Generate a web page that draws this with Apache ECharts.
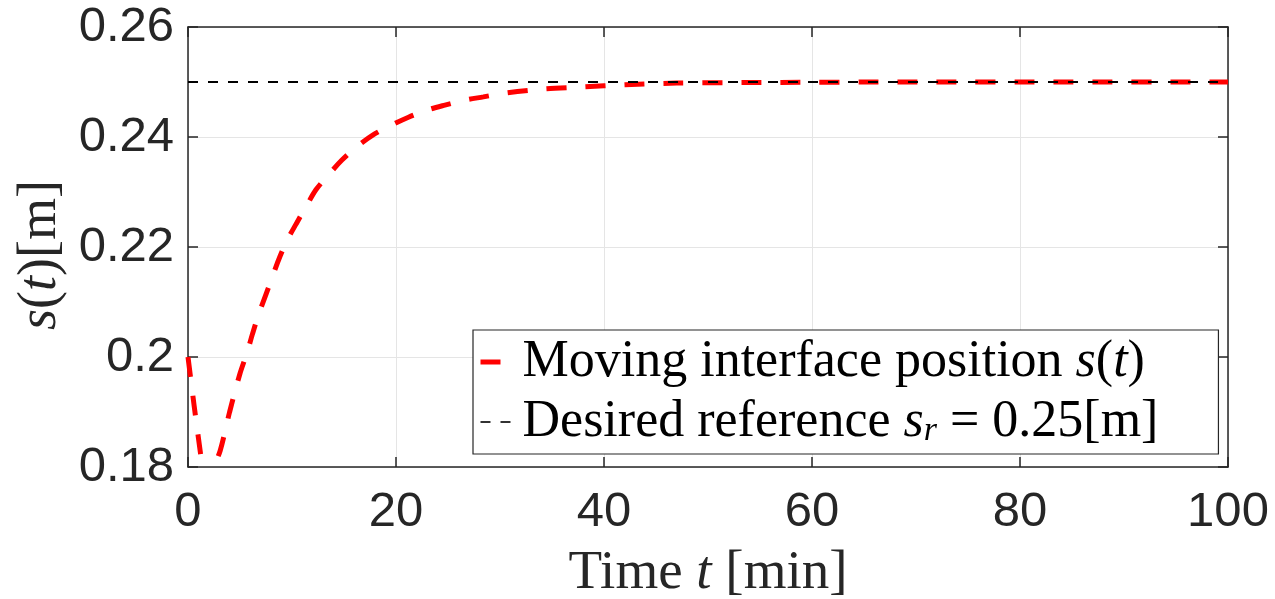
<!DOCTYPE html>
<html>
<head>
<meta charset="utf-8">
<script src="https://cdn.jsdelivr.net/npm/echarts@6/dist/echarts.min.js"></script>
<style>html,body{margin:0;padding:0;background:#fff}#c{width:1275px;height:599px}</style>
</head>
<body>
<div id="c"></div>
<script>
var timeMin = [0, 0.6, 1.2, 1.5, 1.9, 2.4, 3.1, 4.0, 5.0, 5.7, 6.2, 6.8, 7.4, 8.1, 8.7, 9.5, 10.4, 11.4, 12.3, 13.5, 14.8, 16.2, 17.8, 19.4, 21.2, 23, 24.7, 26.6, 28.4, 30.5, 34, 38, 42, 47, 55, 70, 85, 100];
var position = [0.2, 0.191, 0.1825, 0.1785, 0.1772, 0.1797, 0.183, 0.190, 0.197, 0.2009, 0.2042, 0.2078, 0.2109, 0.2145, 0.2176, 0.2211, 0.2242, 0.2275, 0.2304, 0.2331, 0.2358, 0.2382, 0.2404, 0.2420, 0.2436, 0.2449, 0.2458, 0.2467, 0.2473, 0.2480, 0.2487, 0.2491, 0.2495, 0.2498, 0.2499, 0.25, 0.25, 0.25];
var refTime = [0, 100];
var refValue = [0.25, 0.25];
var seriesNames = ['Moving interface position', 'Desired reference'];

function pairs(a, b) { return a.map(function (v, i) { return [v, b[i]]; }); }

var axisColor = '#262626';
var serif = 'Liberation Serif';
var chart = echarts.init(document.getElementById('c'));
chart.setOption({
  animation: false,
  backgroundColor: '#fff',
  grid: { left: 188, right: 47, top: 27, bottom: 132, containLabel: false, outerBoundsMode: 'none' },
  xAxis: [{
    type: 'value', min: 0, max: 100, interval: 20,
    name: '{n|Time }{i|t}{n| [min]}', nameLocation: 'middle', nameGap: 79,
    nameTextStyle: { rich: {
      n: { fontFamily: serif, fontSize: 55, color: axisColor },
      i: { fontFamily: serif, fontSize: 55, fontStyle: 'italic', color: axisColor }
    } },
    axisLine: { show: true, onZero: false, lineStyle: { color: axisColor, width: 1.5 } },
    axisTick: { show: true, inside: true, length: 10, lineStyle: { color: axisColor, width: 1.5 } },
    axisLabel: { margin: 21, fontFamily: 'Liberation Sans', fontSize: 49, color: axisColor },
    splitLine: { show: true, lineStyle: { color: '#e5e5e5', width: 1 } }
  }, {
    type: 'value', min: 0, max: 100, interval: 20, position: 'top',
    axisLine: { show: true, onZero: false, lineStyle: { color: axisColor, width: 1.5 } },
    axisTick: { show: true, inside: true, length: 10, lineStyle: { color: axisColor, width: 1.5 } },
    axisLabel: { show: false }, splitLine: { show: false }
  }],
  yAxis: [{
    type: 'value', min: 0.18, max: 0.26, interval: 0.02,
    name: '{i|s}{n|(}{i|t}{n|)[m]}', nameLocation: 'middle', nameGap: 116,
    nameTextStyle: { padding: [0, 16, 0, 0], rich: {
      n: { fontFamily: serif, fontSize: 54, color: axisColor },
      i: { fontFamily: serif, fontSize: 54, fontStyle: 'italic', color: axisColor }
    } },
    axisLine: { show: true, onZero: false, lineStyle: { color: axisColor, width: 1.5 } },
    axisTick: { show: true, inside: true, length: 10, lineStyle: { color: axisColor, width: 1.5 } },
    axisLabel: { margin: 14, fontFamily: 'Liberation Sans', fontSize: 49, color: axisColor,
      formatter: function (v) { return String(Math.round(v * 100) / 100); } },
    splitLine: { show: true, lineStyle: { color: '#e5e5e5', width: 1 } }
  }, {
    type: 'value', min: 0.18, max: 0.26, interval: 0.02, position: 'right',
    axisLine: { show: true, onZero: false, lineStyle: { color: axisColor, width: 1.5 } },
    axisTick: { show: true, inside: true, length: 10, lineStyle: { color: axisColor, width: 1.5 } },
    axisLabel: { show: false }, splitLine: { show: false }
  }],
  legend: {
    show: true,
    orient: 'vertical', left: 473, top: 330,
    padding: [6, 60, 6, 5], itemGap: 8,
    itemWidth: 30, itemHeight: 14,
    itemStyle: { opacity: 0 },
    backgroundColor: '#fff', borderColor: axisColor, borderWidth: 1.2,
    data: [
      { name: seriesNames[0], lineStyle: { width: 5 } },
      { name: seriesNames[1], lineStyle: { width: 1.6 } }
    ],
    formatter: function (name) {
      if (name === seriesNames[0]) return '{g| }{n|Moving interface position }{i|s}{n|(}{i|t}{n|)}';
      return '{g| }{n|Desired reference }{i|s}{s|r}{n| = 0.25[m]}';
    },
    textStyle: {
      rich: {
        g: { width: 7, fontSize: 10, lineHeight: 52 },
        n: { fontFamily: serif, fontSize: 52, color: '#000', lineHeight: 52 },
        i: { fontFamily: serif, fontSize: 52, fontStyle: 'italic', color: '#000', lineHeight: 52 },
        s: { fontFamily: serif, fontSize: 34, fontStyle: 'italic', color: '#000', lineHeight: 30, verticalAlign: 'bottom' }
      }
    }
  },
  series: [{
    name: seriesNames[0], type: 'line', data: pairs(timeMin, position),
    symbol: 'none', smooth: 0.3, clip: true, color: '#ff0000',
    lineStyle: { color: '#ff0000', width: 5, type: [20, 19] }, z: 2
  }, {
    name: seriesNames[1], type: 'line', data: pairs(refTime, refValue),
    symbol: 'none', clip: true, color: '#000000',
    lineStyle: { color: '#000', width: 2, type: [10, 10] }, z: 3
  }]
});
</script>
</body>
</html>
